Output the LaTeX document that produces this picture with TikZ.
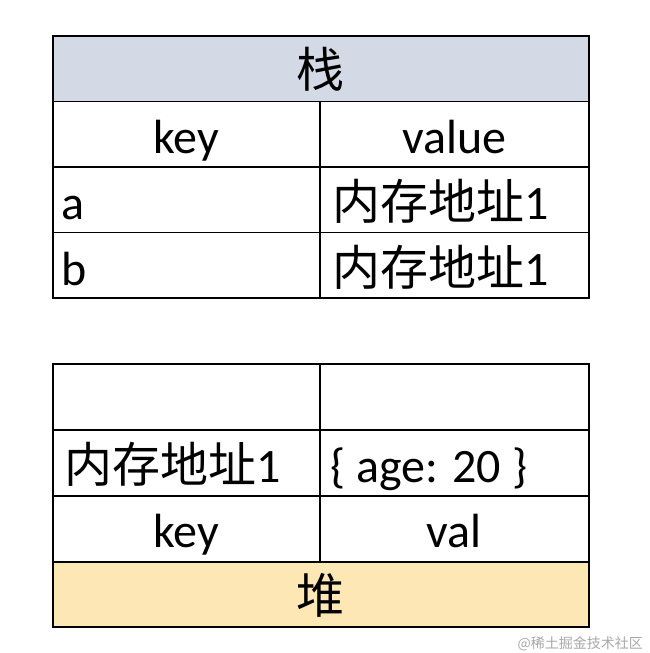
\documentclass[tikz,border=0pt]{standalone}
\usepackage{fontspec}
\setmainfont{Carlito}
\newfontfamily\cjk{Noto Sans CJK SC}
\definecolor{stackblue}{HTML}{D3D9E5}
\definecolor{heapyellow}{HTML}{FCE7B5}
\definecolor{wmgray}{HTML}{A8A8A8}
\begin{document}
\begin{tikzpicture}[x=1pt,y=-1pt]
\tikzset{
  cell/.style={draw=black, line width=1.9pt, inner sep=0pt, anchor=north west},
  txt/.style={font=\fontsize{48}{52}\selectfont, inner sep=0pt, anchor=base},
  ltxt/.style={txt, anchor=base west},
  wm/.style={font=\cjk\fontsize{14}{16}\selectfont, text=wmgray, inner sep=0pt, anchor=base east}
}
\useasboundingbox[fill=white] (0,0) rectangle (650,653);
% stack table
\node[cell, fill=stackblue, minimum width=536pt, minimum height=65.5pt] (sh) at (52,35) {};
\node[cell, minimum width=267pt, minimum height=65.5pt] (s1k) at (52,100.5) {};
\node[cell, minimum width=269pt, minimum height=65.5pt] (s1v) at (319,100.5) {};
\node[cell, minimum width=267pt, minimum height=65.5pt] (s2k) at (52,166) {};
\node[cell, minimum width=269pt, minimum height=65.5pt] (s2v) at (319,166) {};
\node[cell, minimum width=267pt, minimum height=65.5pt] (s3k) at (52,231.5) {};
\node[cell, minimum width=269pt, minimum height=65.5pt] (s3v) at (319,231.5) {};
\node[txt] (tsh) at ([yshift=-19pt]sh.center) {\cjk 栈};
\node[txt] (ts1k) at ([yshift=-19pt]s1k.center) {key};
\node[txt] (ts1v) at ([yshift=-19pt]s1v.center) {value};
\node[ltxt] (ts2k) at ([xshift=9pt,yshift=-20pt]s2k.west) {a};
\node[ltxt] (ts2v) at ([xshift=13pt,yshift=-20pt]s2v.west) {{\cjk 内存地址}1};
\node[ltxt] (ts3k) at ([xshift=9pt,yshift=-20pt]s3k.west) {b};
\node[ltxt] (ts3v) at ([xshift=13pt,yshift=-20pt]s3v.west) {{\cjk 内存地址}1};
% heap table
\node[cell, minimum width=267pt, minimum height=66pt] (h1k) at (52,363) {};
\node[cell, minimum width=269pt, minimum height=66pt] (h1v) at (319,363) {};
\node[cell, minimum width=267pt, minimum height=66pt] (h2k) at (52,429) {};
\node[cell, minimum width=269pt, minimum height=66pt] (h2v) at (319,429) {};
\node[cell, minimum width=267pt, minimum height=66pt] (h3k) at (52,495) {};
\node[cell, minimum width=269pt, minimum height=66pt] (h3v) at (319,495) {};
\node[cell, fill=heapyellow, minimum width=536pt, minimum height=65pt] (hh) at (52,561) {};
\node[ltxt] (th2k) at ([xshift=12pt,yshift=-20pt]h2k.west) {{\cjk 内存地址}1};
\node[ltxt] (th2v) at ([xshift=11pt,yshift=-20pt]h2v.west) {\{ age: 20 \}};
\node[txt] (th3k) at ([yshift=-19pt]h3k.center) {key};
\node[txt] (th3v) at ([yshift=-19pt]h3v.center) {val};
\node[txt] (thh) at ([yshift=-19pt]hh.center) {\cjk 堆};
% watermark
\node[wm] (wmk) at (643,648) {@稀土掘金技术社区};
\end{tikzpicture}
\end{document}
